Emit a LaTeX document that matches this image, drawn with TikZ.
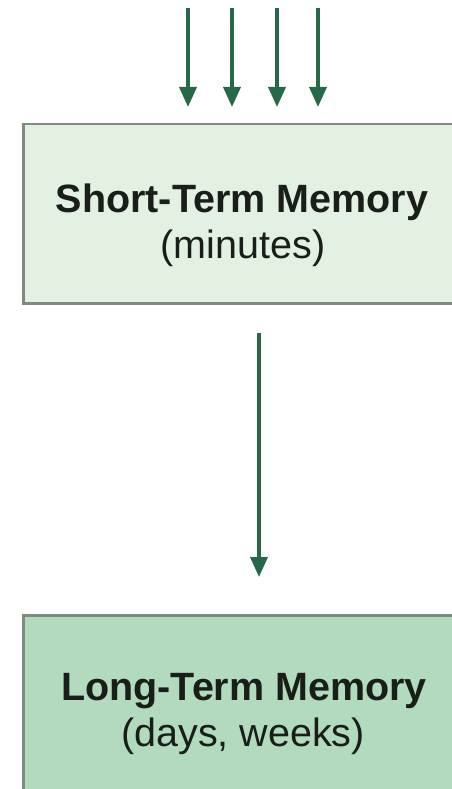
\documentclass[tikz,border=0pt]{standalone}
\usepackage{fontspec}
\setmainfont{Liberation Sans}
\usetikzlibrary{arrows.meta}
\definecolor{arrowgreen}{RGB}{38,104,72}
\definecolor{boxedge}{RGB}{128,138,128}
\definecolor{stmfill}{RGB}{227,241,227}
\definecolor{ltmfill}{RGB}{178,219,190}
\definecolor{txt}{RGB}{25,30,25}
\tikzset{
  flow/.style={draw=arrowgreen, line width=3.6pt, -{Triangle[width=17pt,length=20pt]}},
  membox/.style={draw=boxedge, line width=2.5pt, anchor=north west, inner sep=0pt},
  titletext/.style={anchor=base, font=\fontsize{39.5}{46}\selectfont\bfseries, text=txt, inner sep=0pt},
  subtext/.style={anchor=base, font=\fontsize{39.5}{46}\selectfont, text=txt, inner sep=0pt}
}
\begin{document}
\begin{tikzpicture}[x=1pt,y=-1pt]
\useasboundingbox (0,0) rectangle (452,789);
% boxes
\node[membox, fill=stmfill, minimum width=450pt, minimum height=179pt] (stm) at (22,123) {};
\node[membox, fill=ltmfill, minimum width=450pt, minimum height=200pt] (ltm) at (22,614) {};
% texts
\node[titletext] (stmA) at (242,212) {Short-Term Memory};
\node[subtext] (stmB) at (243,258) {(minutes)};
\node[titletext] (ltmA) at (244,700) {Long-Term Memory};
\node[subtext] (ltmB) at (243,746) {(days, weeks)};
% input arrows
\coordinate (i1) at (188,8);
\coordinate (i2) at (232,8);
\coordinate (i3) at (277,8);
\coordinate (i4) at (318,8);
\foreach \c in {i1,i2,i3,i4}{
  \draw[flow, shorten >=16pt] (\c) -- (\c |- stm.north);
}
% transfer arrow
\coordinate (t0) at (259,302);
\draw[flow, shorten <=31pt, shorten >=37pt] (t0) -- (t0 |- ltm.north);
\end{tikzpicture}
\end{document}
